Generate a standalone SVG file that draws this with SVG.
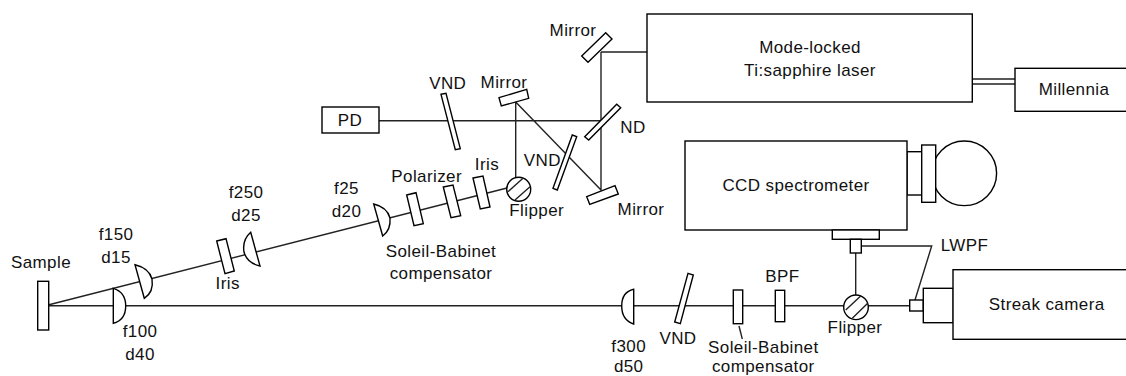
<svg xmlns="http://www.w3.org/2000/svg" width="1126" height="376" viewBox="0 0 1126 376">
<style>
.s{fill:#fff;stroke:#000;stroke-width:1.4}
.l{fill:none;stroke:#222;stroke-width:1.4}
text{font-family:"Liberation Sans",Arial,sans-serif;font-size:17px;letter-spacing:.4px;fill:#111;text-anchor:middle}
</style>
<rect width="1126" height="376" fill="#fff"/>
<g id="connectors">
<path class="l" d="M379 120.7H601M601 52H648M601 52V190L515.7 102V178M49 304.7L507 188M49 305.7H845M868 305.7H910M855.7 253V296M861.3 246H931.7L915 300"/>
<path class="l" d="M972 79H1015M972 84H1015"/>
<path class="l" d="M739 326L742.3 339"/>
</g>
<g id="sample"><rect class="s" x="37.7" y="281.3" width="11" height="48.7"/><text x="41" y="268">Sample</text></g>
<g id="lens-f100"><path class="s" d="M113.3 288.3Q125.7 292 125.7 306Q125.7 320 113.3 323.3Z"/><text x="140" y="336.7">f100</text><text x="140" y="360">d40</text></g>
<g id="lens-f150"><path class="s" d="M135 264.7Q149 268 152 279Q154 292 144.3 298.3Z"/><text x="116" y="240">f150</text><text x="116" y="262.7">d15</text></g>
<g id="iris-1"><path class="s" d="M216.7 241L226 238.7L234.3 271L225 273.7Z"/><text x="227.7" y="289.3">Iris</text></g>
<g id="lens-f250"><path class="s" d="M250.7 232.3Q242 240 244 252Q247 263 260 266Z"/><text x="246" y="198">f250</text><text x="246" y="220.7">d25</text></g>
<g id="lens-f25"><path class="s" d="M373.7 204Q387 207 390 218Q391 230 382.7 236Z"/><text x="346.5" y="194">f25</text><text x="346.5" y="216.7">d20</text></g>
<g id="soleil-1"><path class="s" d="M406.7 195L416 192.7L423.3 223.7L414 225.7Z"/><text x="441" y="256.7">Soleil-Babinet</text><text x="441" y="279.3">compensator</text></g>
<g id="polarizer"><path class="s" d="M443.3 187L453 185L460.7 215.7L451 217.7Z"/><text x="426.7" y="182.3">Polarizer</text></g>
<g id="iris-2"><path class="s" d="M473 178L483 176L490 207L480.3 209Z"/><text x="487" y="170">Iris</text></g>
<g id="flipper-1"><circle class="s" cx="518.7" cy="189.3" r="12"/><path class="l" d="M508 191.7L523 178.3M515 200L530 186.7"/><text x="536.7" y="216">Flipper</text></g>
<g id="pd"><rect class="s" x="322" y="107" width="57" height="26"/><text x="350" y="125.7">PD</text></g>
<g id="vnd-1"><path class="s" d="M441 94.3L446 93.3L460.3 148.7L455.3 149.7Z"/><text x="447.7" y="89.3">VND</text></g>
<g id="mirror-top"><path class="s" d="M499 97.7L526.7 89.3L528.7 98.3L501.3 106Z"/><text x="504" y="87.7">Mirror</text></g>
<g id="mirror-laser"><path class="s" d="M581.7 56L605.7 32.7L612 39L588 62.3Z"/><text x="573" y="35.7">Mirror</text></g>
<g id="nd"><path class="s" d="M584.7 136.7L616.7 104.3L620.7 107.7L588.7 140Z"/><text x="633" y="133.3">ND</text></g>
<g id="vnd-2"><path class="s" d="M553 188.3L572.3 135L576.7 136.7L557.3 190Z"/><text x="542.3" y="165.7">VND</text></g>
<g id="mirror-low"><path class="s" d="M586.7 196.7L615 185.7L618.3 194L589.7 204.3Z"/><text x="641" y="215">Mirror</text></g>
<g id="laser"><rect class="s" x="647" y="14" width="325.3" height="88"/><text x="810" y="52.7">Mode-locked</text><text x="810" y="76">Ti:sapphire laser</text></g>
<g id="millennia"><rect class="s" x="1015" y="68.3" width="120" height="43"/><text x="1074" y="95">Millennia</text></g>
<g id="ccd"><circle class="s" cx="964.3" cy="173.3" r="32.3"/><rect class="s" x="907" y="151.7" width="14.7" height="43.3"/><rect class="s" x="921.7" y="145" width="14" height="57.3"/><rect class="s" x="685" y="141" width="222" height="89"/><rect class="s" x="832.3" y="230" width="47" height="9.3"/><rect class="s" x="850.3" y="239.3" width="11" height="13.7"/><text x="796" y="191">CCD spectrometer</text></g>
<g id="lens-f300"><path class="s" d="M633.7 289.3Q621.7 292 621.7 306Q621.7 320 633.7 324Z"/><text x="628.7" y="352">f300</text><text x="628.7" y="372">d50</text></g>
<g id="vnd-3"><path class="s" d="M688 273.3L693.3 275L680.3 323.7L674.7 322Z"/><text x="678" y="343.7">VND</text></g>
<g id="soleil-2"><rect class="s" x="733.3" y="290" width="9.4" height="33.7"/><text x="763.3" y="353">Soleil-Babinet</text><text x="763.3" y="372">compensator</text></g>
<g id="bpf"><rect class="s" x="775.3" y="290.3" width="9.4" height="31.4"/><text x="782.3" y="281.7">BPF</text></g>
<g id="flipper-2"><circle class="s" cx="856" cy="307.3" r="12.3"/><path class="l" d="M845.7 310L860.7 296M852.3 318.3L867.7 303.3"/><text x="855" y="332.7">Flipper</text></g>
<g id="lwpf"><rect class="s" x="909.7" y="300" width="13.6" height="11"/><text x="964.5" y="250.7">LWPF</text></g>
<g id="streak"><rect class="s" x="923.3" y="288.3" width="30" height="34.4"/><rect class="s" x="953" y="269.7" width="180" height="69.6"/><text x="1046.7" y="310">Streak camera</text></g>
</svg>
